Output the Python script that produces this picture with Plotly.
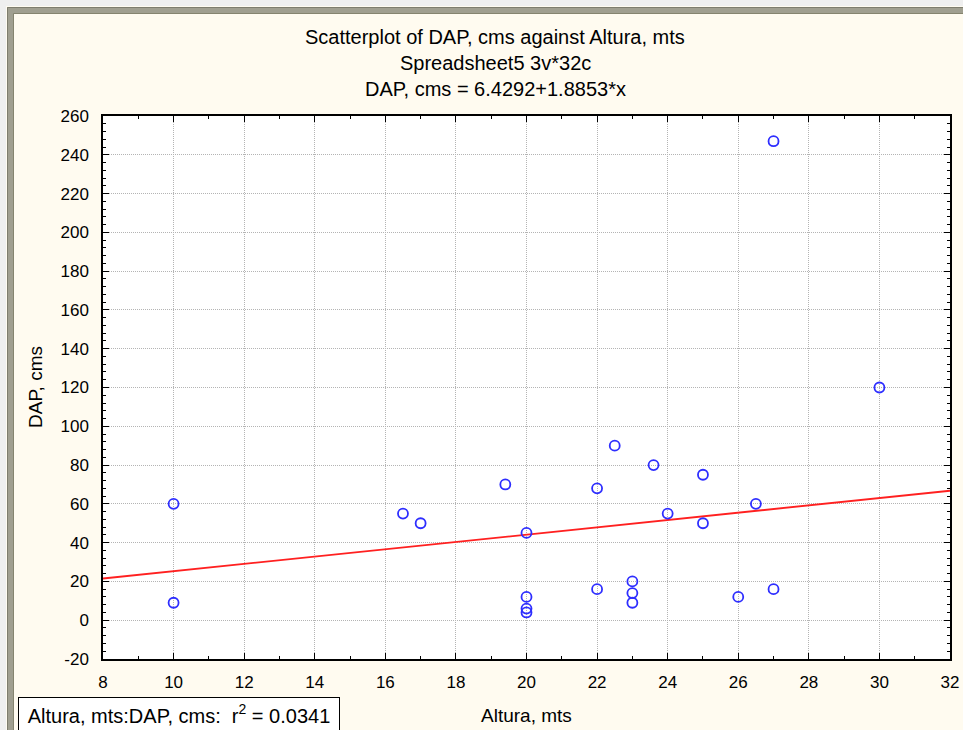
import plotly.graph_objects as go

# ---- data ----
altura = [10, 10, 16.5, 17, 19.4, 20, 20, 20, 20, 22, 22, 22.5, 23, 23, 23, 23.6,
          24, 25, 25, 26, 26.5, 27, 27, 30]
dap = [60, 9, 55, 50, 70, 45, 12, 6, 4, 68, 16, 90, 20, 14, 9, 80,
       55, 75, 50, 12, 60, 16, 247, 120]
intercept = 6.4292
slope = 1.8853
fit_x = [8, 32]
fit_y = [intercept + slope * v for v in fit_x]

y_tick_values = [-20, 0, 20, 40, 60, 80, 100, 120, 140, 160, 180, 200, 220, 240, 260]
y_tick_labels = ["-20", "0", "20", "40", "60", "80", "100", "120", "140", "160",
                 "180", "200", "220", "240", "260"]

title_lines = ["Scatterplot of DAP, cms against Altura, mts",
               "Spreadsheet5 3v*32c",
               "DAP, cms = 6.4292+1.8853*x"]
x_title = "Altura, mts"
y_title = "DAP, cms"
legend_text = "Altura, mts:DAP, cms:  r<sup>2</sup> = 0.0341"

# ---- layout geometry (pixels) ----
W, H = 963, 730
L, R, T, B = 103, 950, 116, 659
PW, PH = R - L, B - T


def px(x):
    return (x - L) / PW


def py(y):
    return (B - y) / PH


FONT = "Liberation Sans"

fig = go.Figure()
fig.add_trace(go.Scatter(x=fit_x, y=fit_y, mode="lines",
                         line=dict(color="#FF2020", width=1.8),
                         hoverinfo="skip", showlegend=False))
fig.add_trace(go.Scatter(x=altura, y=dap, mode="markers",
                         marker=dict(symbol="circle-open", size=10, color="#2E2EFF",
                                     line=dict(width=1.8)),
                         showlegend=False))

axis_common = dict(showline=True, linecolor="black", linewidth=1.5, mirror="allticks",
                   ticks="inside", ticklen=6, tickcolor="black", tickwidth=1.2,
                   showgrid=True, gridcolor="#B4B4B4", griddash="1px,1px", gridwidth=1,
                   zeroline=False, automargin=False,
                   tickfont=dict(family=FONT, size=17, color="black"))

fig.update_xaxes(range=[8, 32], dtick=2, tick0=8,
                 minor=dict(dtick=1, ticks="inside", ticklen=3, tickcolor="black", showgrid=False),
                 ticklabelstandoff=7, **axis_common)
fig.update_yaxes(range=[-20, 260], tickmode="array", tickvals=y_tick_values, ticktext=y_tick_labels,
                 minor=dict(dtick=4, tick0=0, ticks="inside", ticklen=3, tickcolor="black", showgrid=False),
                 ticklabelstandoff=9, **axis_common)

annotations = []
for i, t in enumerate(title_lines):
    annotations.append(dict(text=t, x=px(495), y=py(37 + 26 * i), xref="paper", yref="paper",
                            xanchor="center", yanchor="middle", showarrow=False,
                            font=dict(family=FONT, size=20, color="black")))
annotations.append(dict(text=y_title, x=px(36), y=py(387), xref="paper", yref="paper",
                        textangle=-90, xanchor="center", yanchor="middle", showarrow=False,
                        font=dict(family=FONT, size=19, color="black")))
annotations.append(dict(text=x_title, x=px(526), y=py(715), xref="paper", yref="paper",
                        xanchor="center", yanchor="middle", showarrow=False,
                        font=dict(family=FONT, size=19, color="black")))
annotations.append(dict(text=legend_text, x=px(18), y=py(697), xref="paper", yref="paper",
                        xanchor="left", yanchor="top", showarrow=False, align="center",
                        width=318, height=30, valign="middle", borderpad=1,
                        bordercolor="black", borderwidth=1, bgcolor="white",
                        font=dict(family=FONT, size=20, color="black")))

shapes = [
    # outer light strip
    dict(type="rect", xref="paper", yref="paper", x0=px(3), x1=px(1100), y0=py(1100), y1=py(3),
         line=dict(color="#EFEFEF", width=6), layer="above"),
    # grey window frame
    dict(type="rect", xref="paper", yref="paper", x0=px(10.5), x1=px(1100), y0=py(1100), y1=py(10.5),
         line=dict(color="#A09F90", width=7), layer="above"),
    dict(type="rect", xref="paper", yref="paper", x0=px(7.5), x1=px(1100), y0=py(1100), y1=py(7.5),
         line=dict(color="#7E7D6E", width=1), layer="above"),
    dict(type="rect", xref="paper", yref="paper", x0=px(13.5), x1=px(1100), y0=py(1100), y1=py(13.5),
         line=dict(color="#85846F", width=1), layer="above"),
]

fig.update_layout(width=W, height=H, autosize=False,
                  margin=dict(l=L, r=W - R, t=T, b=H - B, pad=0, autoexpand=False),
                  paper_bgcolor="#FFFBF0", plot_bgcolor="white",
                  annotations=annotations, shapes=shapes,
                  font=dict(family=FONT, size=17, color="black"))

fig.write_html("out.html", config={"displayModeBar": False},
               post_script="document.body.style.margin='0';document.body.style.overflow='hidden';")
